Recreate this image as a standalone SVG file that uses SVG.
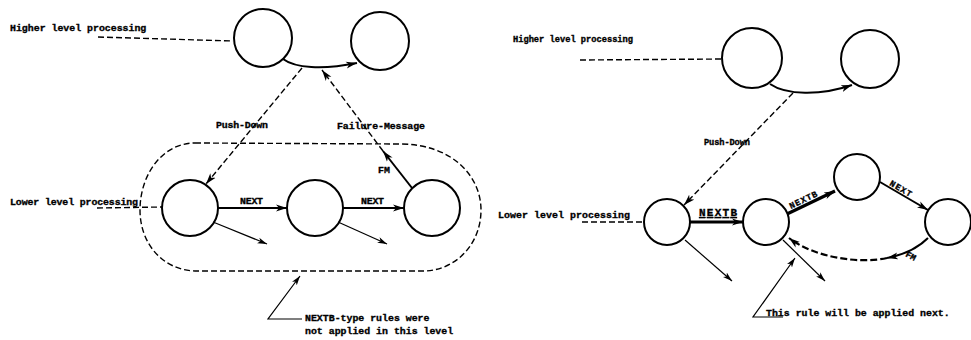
<svg xmlns="http://www.w3.org/2000/svg" width="971" height="340" viewBox="0 0 971 340">
  <style>
    .node { fill: none; stroke: #000; stroke-width: 2; }
    .lbl { font-family: "Liberation Mono", "DejaVu Sans Mono", monospace; font-weight: bold; fill: #000; stroke: #000; stroke-width: 0.35; font-size: 9.9px; }
    .lbl-s { font-size: 8.7px; }
    .dash { fill: none; stroke: #000; stroke-width: 1.4; stroke-dasharray: 6 3; }
    .thin { fill: none; stroke: #000; stroke-width: 1.2; }
    .solid { fill: none; stroke: #000; stroke-width: 2; }
    .bold { fill: none; stroke: #000; stroke-width: 3.2; }
    .bdash { fill: none; stroke: #000; stroke-width: 2.2; stroke-dasharray: 7 3; }
  </style>
  <defs>
    <marker id="ah" markerUnits="userSpaceOnUse" markerWidth="12" markerHeight="8" refX="11" refY="4" orient="auto">
      <path d="M0,0.5 L11,4 L0,7.5 L3,4 z" fill="#000"/>
    </marker>
    <marker id="ahs" markerUnits="userSpaceOnUse" markerWidth="10" markerHeight="7" refX="9.5" refY="3.5" orient="auto">
      <path d="M0,0.5 L9.5,3.5 L0,6.5 L2.5,3.5 z" fill="#000"/>
    </marker>
  </defs>

  <!-- ===== Left panel ===== -->
  <g id="left-labels">
    <text class="lbl" x="10" y="31">Higher level processing</text>
    <text class="lbl" x="10" y="205" textLength="128">Lower level processing</text>
    <text class="lbl" x="216" y="128" textLength="52">Push-Down</text>
    <text class="lbl" x="337" y="129" textLength="88">Failure-Message</text>
    <text class="lbl" x="378" y="173">FM</text>
    <text class="lbl" x="240" y="204" textLength="23">NEXT</text>
    <text class="lbl" x="361" y="204" textLength="23">NEXT</text>
    <text class="lbl" x="305" y="321">NEXTB-type rules were</text>
    <text class="lbl" x="305" y="334">not applied in this level</text>
  </g>

  <g id="L-high-1"><circle class="node" cx="263" cy="38" r="29"/></g>
  <g id="L-high-2"><circle class="node" cx="380" cy="41" r="29"/></g>
  <g id="L-low-1"><circle class="node" cx="190" cy="208" r="28"/></g>
  <g id="L-low-2"><circle class="node" cx="315" cy="208" r="28"/></g>
  <g id="L-low-3"><circle class="node" cx="432" cy="208" r="28"/></g>

  <g id="L-level-boundary">
    <path class="dash" d="M195,143 L400,144 C452,144 481,176 481,210 C481,245 455,270 425,271 L195,271 C163,270 140,244 140,210 C140,175 162,143 195,143 Z"/>
  </g>

  <g id="left-connectors">
    <line class="dash" x1="98" y1="37" x2="233" y2="41"/>
    <line class="dash" x1="97" y1="208" x2="162" y2="207"/>
    <path class="solid" d="M283,59 C295,68 322,70 357,63" marker-end="url(#ah)"/>
    <line class="dash" x1="302" y1="68" x2="206" y2="184" marker-end="url(#ah)"/>
    <line class="solid" x1="412" y1="188" x2="383" y2="151" marker-end="url(#ah)"/>
    <line class="dash" x1="383" y1="151" x2="322" y2="70" marker-end="url(#ah)"/>
    <line class="solid" x1="218" y1="208" x2="287" y2="208" marker-end="url(#ah)"/>
    <line class="solid" x1="343" y1="208" x2="404" y2="208" marker-end="url(#ah)"/>
    <line class="thin" x1="213" y1="222" x2="267" y2="244" marker-end="url(#ahs)"/>
    <line class="thin" x1="338" y1="222" x2="387" y2="244" marker-end="url(#ahs)"/>
    <polyline class="thin" points="302,319 268,319 300,276" marker-end="url(#ahs)"/>
  </g>

  <!-- ===== Right panel ===== -->
  <g id="right-labels">
    <text class="lbl lbl-s" x="513" y="42" textLength="120">Higher level processing</text>
    <text class="lbl" x="498" y="218" textLength="132">Lower level processing</text>
    <text class="lbl lbl-s" x="704" y="145" textLength="46">Push-Down</text>
    <text class="lbl" x="699" y="216" textLength="38" style="font-size:11px" text-decoration="underline">NEXTB</text>
    <text class="lbl lbl-s" x="791" y="209" textLength="30" transform="rotate(-26 791 209)">NEXTB</text>
    <text class="lbl lbl-s" x="889" y="185" textLength="24" transform="rotate(30 889 185)">NEXT</text>
    <text class="lbl lbl-s" x="905" y="256" transform="rotate(28 905 256)">FM</text>
    <text class="lbl" x="766" y="316">This rule will be applied next.</text>
  </g>

  <g id="R-high-1"><circle class="node" cx="752" cy="58" r="30"/></g>
  <g id="R-high-2"><circle class="node" cx="870" cy="59" r="29"/></g>
  <g id="R-low-1"><circle class="node" cx="667" cy="222" r="23"/></g>
  <g id="R-low-2"><circle class="node" cx="766" cy="222" r="23"/></g>
  <g id="R-low-3"><circle class="node" cx="857" cy="177" r="23"/></g>
  <g id="R-low-4"><circle class="node" cx="948" cy="222" r="23"/></g>

  <g id="right-connectors">
    <line class="dash" x1="580" y1="60" x2="723" y2="59"/>
    <line class="dash" x1="582" y1="222" x2="644" y2="222"/>
    <path class="solid" d="M770,84 C786,95 820,96 852,85" marker-end="url(#ah)"/>
    <line class="dash" x1="793" y1="93" x2="684" y2="205" marker-end="url(#ah)"/>
    <line class="bold" x1="690" y1="222" x2="743" y2="222" marker-end="url(#ah)"/>
    <line class="bold" x1="787" y1="214" x2="835" y2="191" marker-end="url(#ah)"/>
    <line class="solid" x1="880" y1="182" x2="928" y2="210" marker-end="url(#ah)"/>
    <path class="solid" d="M928,238 Q913,253 887,258" marker-end="url(#ah)"/>
    <path class="bdash" d="M887,258 C860,264 815,258 789,238" marker-end="url(#ah)"/>
    <line class="thin" x1="685" y1="240" x2="732" y2="281" marker-end="url(#ahs)"/>
    <line class="thin" x1="783" y1="240" x2="825" y2="281" marker-end="url(#ahs)"/>
    <polyline class="thin" points="783,317 753,317 795,258" marker-end="url(#ahs)"/>
  </g>
</svg>
